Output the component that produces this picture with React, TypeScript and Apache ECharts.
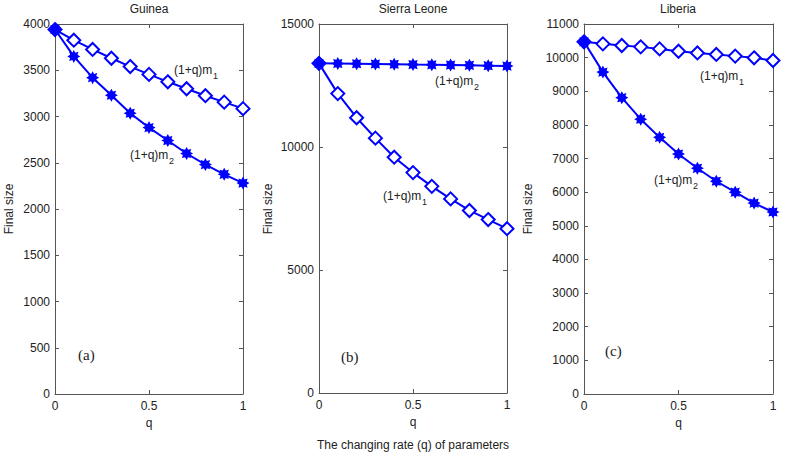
import React, { useEffect, useRef } from "react";
import * as echarts from "echarts";

const q = [0, 0.1, 0.2, 0.3, 0.4, 0.5, 0.6, 0.7, 0.8, 0.9, 1];
const guineaM1 = [3940, 3825, 3725, 3630, 3540, 3455, 3375, 3300, 3225, 3155, 3085];
const guineaM2 = [3940, 3650, 3420, 3230, 3035, 2880, 2740, 2600, 2480, 2375, 2280];
const sierraM1 = [13400, 12170, 11190, 10360, 9585, 8960, 8400, 7890, 7420, 7050, 6680];
const sierraM2 = [13400, 13395, 13385, 13375, 13365, 13350, 13340, 13330, 13320, 13305, 13290];
const liberiaM1 = [10470, 10410, 10360, 10320, 10260, 10190, 10140, 10095, 10045, 9995, 9915];
const liberiaM2 = [10470, 9570, 8810, 8170, 7630, 7135, 6710, 6325, 6000, 5675, 5410];
const titles = ["Guinea", "Sierra Leone", "Liberia"];
const panelTags = ["(a)", "(b)", "(c)"];
const yMax = [4000, 15000, 11000];
const yStep = [500, 5000, 1000];

const BLUE = "#0000ff";
const FONT = "'Liberation Sans', Arial, sans-serif";
const SERIF = "'Liberation Serif', 'Times New Roman', serif";

function starPath(): string {
  const pts: string[] = [];
  for (let i = 0; i < 16; i++) {
    const r = i % 2 === 0 ? 10 : 6.2;
    const a = (Math.PI / 8) * i - Math.PI / 2;
    pts.push(`${(10 + r * Math.cos(a)).toFixed(2)},${(10 + r * Math.sin(a)).toFixed(2)}`);
  }
  return "path://M" + pts.join("L") + "Z";
}

export default function App() {
  const ref = useRef<HTMLDivElement>(null);
  useEffect(() => {
    const chart = echarts.init(ref.current!, null, { renderer: "svg" });
    const grids = [
      { left: 55, top: 24, width: 188, height: 370 },
      { left: 319, top: 24, width: 188, height: 369 },
      { left: 584, top: 24, width: 189, height: 370 },
    ];
    const data = [
      [guineaM1, guineaM2],
      [sierraM1, sierraM2],
      [liberiaM1, liberiaM2],
    ];
    const star = starPath();
    const xAxis: any[] = [];
    const yAxis: any[] = [];
    const series: any[] = [];
    const axisLine = { lineStyle: { color: "#555", width: 1 } };
    grids.forEach((g, i) => {
      xAxis.push({
        type: "value", gridIndex: i, min: 0, max: 1, interval: 0.5,
        axisLine: { ...axisLine, onZero: false },
        axisTick: { inside: true, length: 4, lineStyle: { color: "#555" } },
        splitLine: { show: false },
        axisLabel: { color: "#222", fontFamily: FONT, fontSize: 12, margin: 6, formatter: (v: number) => String(v) },
        name: "q", nameLocation: "middle", nameGap: 22,
        nameTextStyle: { color: "#222", fontFamily: FONT, fontSize: 12 },
      });
      xAxis.push({
        type: "value", gridIndex: i, min: 0, max: 1, interval: 0.5, position: "top",
        axisLine: { ...axisLine, onZero: false },
        axisTick: { inside: true, length: 4, lineStyle: { color: "#555" } },
        splitLine: { show: false }, axisLabel: { show: false },
      });
      yAxis.push({
        type: "value", gridIndex: i, min: 0, max: yMax[i], interval: yStep[i],
        axisLine: { ...axisLine, onZero: false, show: true },
        axisTick: { show: true, inside: true, length: 4, lineStyle: { color: "#555" } },
        splitLine: { show: false },
        axisLabel: { color: "#222", fontFamily: FONT, fontSize: 12, margin: 5, formatter: (v: number) => String(v) },
      });
      yAxis.push({
        type: "value", gridIndex: i, min: 0, max: yMax[i], interval: yStep[i], position: "right",
        axisLine: { ...axisLine, onZero: false, show: true },
        axisTick: { show: true, inside: true, length: 4, lineStyle: { color: "#555" } },
        splitLine: { show: false }, axisLabel: { show: false },
      });
      const [m1, m2] = data[i];
      series.push({
        type: "line", name: "(1+q)m1", xAxisIndex: i * 2, yAxisIndex: i * 2,
        data: q.map((x, k) => [x, m1[k]]),
        symbol: "emptyDiamond", symbolSize: 13, showAllSymbol: true,
        lineStyle: { color: BLUE, width: 2 },
        itemStyle: { color: BLUE, borderColor: BLUE, borderWidth: 2 },
      });
      series.push({
        type: "line", name: "(1+q)m2", xAxisIndex: i * 2, yAxisIndex: i * 2,
        data: q.map((x, k) => [x, m2[k]]),
        symbol: star, symbolSize: 13, showAllSymbol: true,
        lineStyle: { color: BLUE, width: 2 },
        itemStyle: { color: BLUE, borderWidth: 0 },
      });
    });

    const label = (x: number, y: number, sub: string) => [
      { type: "text", x, y, style: { text: "(1+q)m", fill: "#222", font: `12px ${FONT}`, textVerticalAlign: "middle" } },
      { type: "text", x: x + 39, y: y + 6, style: { text: sub, fill: "#222", font: `9px ${FONT}`, textVerticalAlign: "middle" } },
    ];

    const graphic: any[] = [
      ...label(174, 70, "1"),
      ...label(130, 155, "2"),
      ...label(435, 81, "2"),
      ...label(383, 196, "1"),
      ...label(700, 76, "1"),
      ...label(654, 180, "2"),
      { type: "text", x: 413, y: 445, style: { text: "The changing rate (q) of parameters", fill: "#222", font: `12px ${FONT}`, textAlign: "center", textVerticalAlign: "middle" } },
    ];
    const titleX = [149, 413, 678];
    const yNameX = [9, 268, 528];
    const tagPos = [[78, 355], [341, 357], [605, 351]];
    for (let i = 0; i < 3; i++) {
      graphic.push({ type: "text", x: titleX[i], y: 9, style: { text: titles[i], fill: "#222", font: `12px ${FONT}`, textAlign: "center", textVerticalAlign: "middle" } });
      graphic.push({ type: "text", x: yNameX[i], y: 209, rotation: Math.PI / 2, style: { text: "Final size", fill: "#222", font: `12px ${FONT}`, textAlign: "center", textVerticalAlign: "middle" } });
      graphic.push({ type: "text", x: tagPos[i][0], y: tagPos[i][1], style: { text: panelTags[i], fill: "#222", font: `15px ${SERIF}`, textVerticalAlign: "middle" } });
    }

    chart.setOption({
      animation: false,
      backgroundColor: "#fff",
      grid: grids.map((g) => ({ ...g, containLabel: false })),
      xAxis, yAxis, series, graphic,
    });
    return () => chart.dispose();
  }, []);
  return <div ref={ref} style={{ width: 787, height: 453, position: "absolute", left: 0, top: 0 }} />;
}
